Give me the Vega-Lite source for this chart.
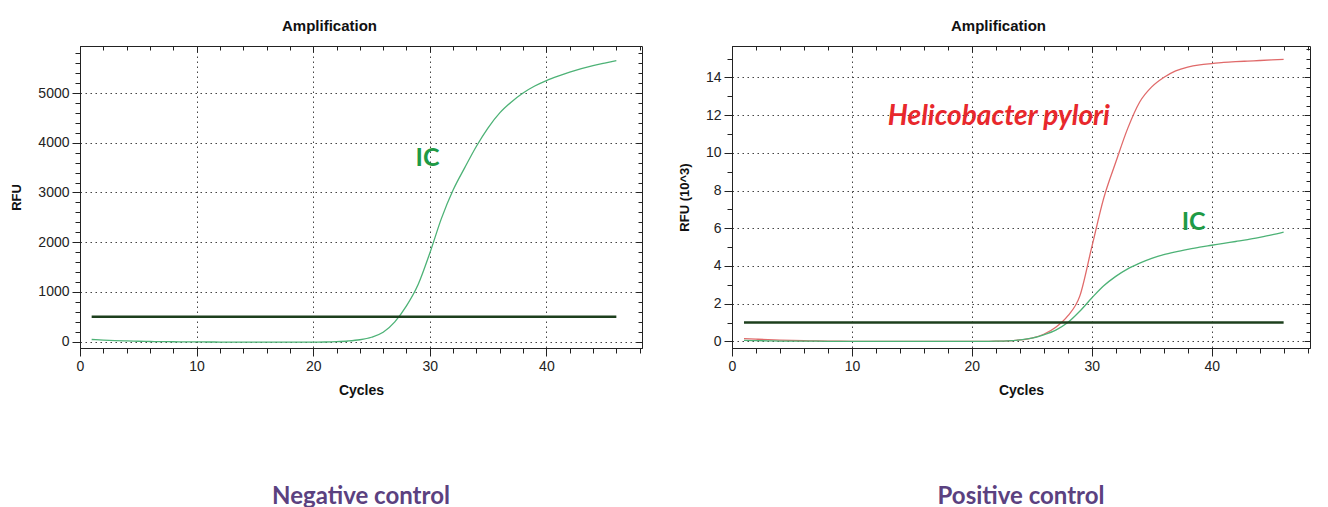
{
  "$schema": "https://vega.github.io/schema/vega-lite/v6.json",
  "background": "white",
  "padding": {"left": 10, "top": 18, "right": 5, "bottom": 5},
  "spacing": 34,
  "config": {
    "view": {"stroke": "#222", "strokeWidth": 1},
    "font": "Liberation Sans",
    "axis": {
      "labelFont": "Liberation Sans", "labelFontSize": 14, "labelColor": "#222",
      "titleFont": "Liberation Sans", "titleFontSize": 14, "titleFontWeight": "bold", "titleColor": "#111",
      "domainColor": "#222", "tickColor": "#222", "gridColor": "#444", "gridDash": [1.5, 3.5],
      "labelOverlap": false, "labelFlush": false, "labelPadding": 3
    }
  },
  "datasets": {
    "neg": [
      {"series": "IC", "cycle": 1, "rfu": 45}, {"series": "IC", "cycle": 2, "rfu": 33}, {"series": "IC", "cycle": 3, "rfu": 24},
      {"series": "IC", "cycle": 4, "rfu": 16}, {"series": "IC", "cycle": 5, "rfu": 10}, {"series": "IC", "cycle": 6, "rfu": 5},
      {"series": "IC", "cycle": 7, "rfu": 2}, {"series": "IC", "cycle": 8, "rfu": 0}, {"series": "IC", "cycle": 9, "rfu": -2},
      {"series": "IC", "cycle": 10, "rfu": -4}, {"series": "IC", "cycle": 11, "rfu": -5}, {"series": "IC", "cycle": 12, "rfu": -6},
      {"series": "IC", "cycle": 13, "rfu": -7}, {"series": "IC", "cycle": 14, "rfu": -8}, {"series": "IC", "cycle": 15, "rfu": -8},
      {"series": "IC", "cycle": 16, "rfu": -9}, {"series": "IC", "cycle": 17, "rfu": -9}, {"series": "IC", "cycle": 18, "rfu": -9},
      {"series": "IC", "cycle": 19, "rfu": -9}, {"series": "IC", "cycle": 20, "rfu": -8}, {"series": "IC", "cycle": 21, "rfu": -5},
      {"series": "IC", "cycle": 22, "rfu": 2}, {"series": "IC", "cycle": 23, "rfu": 15}, {"series": "IC", "cycle": 24, "rfu": 40},
      {"series": "IC", "cycle": 25, "rfu": 90}, {"series": "IC", "cycle": 26, "rfu": 190}, {"series": "IC", "cycle": 27, "rfu": 400},
      {"series": "IC", "cycle": 28, "rfu": 720}, {"series": "IC", "cycle": 29, "rfu": 1150}, {"series": "IC", "cycle": 30, "rfu": 1780},
      {"series": "IC", "cycle": 31, "rfu": 2480}, {"series": "IC", "cycle": 32, "rfu": 3050}, {"series": "IC", "cycle": 33, "rfu": 3500},
      {"series": "IC", "cycle": 34, "rfu": 3930}, {"series": "IC", "cycle": 35, "rfu": 4300}, {"series": "IC", "cycle": 36, "rfu": 4600},
      {"series": "IC", "cycle": 37, "rfu": 4820}, {"series": "IC", "cycle": 38, "rfu": 5000}, {"series": "IC", "cycle": 39, "rfu": 5140},
      {"series": "IC", "cycle": 40, "rfu": 5250}, {"series": "IC", "cycle": 41, "rfu": 5340}, {"series": "IC", "cycle": 42, "rfu": 5420},
      {"series": "IC", "cycle": 43, "rfu": 5490}, {"series": "IC", "cycle": 44, "rfu": 5550}, {"series": "IC", "cycle": 45, "rfu": 5600},
      {"series": "IC", "cycle": 46, "rfu": 5650}
    ],
    "pos": [
      {"series": "Helicobacter pylori", "cycle": 1, "rfu": 0.15}, {"series": "Helicobacter pylori", "cycle": 2, "rfu": 0.12},
      {"series": "Helicobacter pylori", "cycle": 3, "rfu": 0.09}, {"series": "Helicobacter pylori", "cycle": 4, "rfu": 0.07},
      {"series": "Helicobacter pylori", "cycle": 5, "rfu": 0.05}, {"series": "Helicobacter pylori", "cycle": 6, "rfu": 0.035},
      {"series": "Helicobacter pylori", "cycle": 7, "rfu": 0.025}, {"series": "Helicobacter pylori", "cycle": 8, "rfu": 0.015},
      {"series": "Helicobacter pylori", "cycle": 9, "rfu": 0.01}, {"series": "Helicobacter pylori", "cycle": 10, "rfu": 0.005},
      {"series": "Helicobacter pylori", "cycle": 11, "rfu": 0}, {"series": "Helicobacter pylori", "cycle": 12, "rfu": 0},
      {"series": "Helicobacter pylori", "cycle": 13, "rfu": 0}, {"series": "Helicobacter pylori", "cycle": 14, "rfu": 0},
      {"series": "Helicobacter pylori", "cycle": 15, "rfu": 0}, {"series": "Helicobacter pylori", "cycle": 16, "rfu": 0},
      {"series": "Helicobacter pylori", "cycle": 17, "rfu": 0}, {"series": "Helicobacter pylori", "cycle": 18, "rfu": 0},
      {"series": "Helicobacter pylori", "cycle": 19, "rfu": 0}, {"series": "Helicobacter pylori", "cycle": 20, "rfu": 0},
      {"series": "Helicobacter pylori", "cycle": 21, "rfu": 0}, {"series": "Helicobacter pylori", "cycle": 22, "rfu": 0.01},
      {"series": "Helicobacter pylori", "cycle": 23, "rfu": 0.03}, {"series": "Helicobacter pylori", "cycle": 24, "rfu": 0.08},
      {"series": "Helicobacter pylori", "cycle": 25, "rfu": 0.18}, {"series": "Helicobacter pylori", "cycle": 26, "rfu": 0.38},
      {"series": "Helicobacter pylori", "cycle": 27, "rfu": 0.75}, {"series": "Helicobacter pylori", "cycle": 28, "rfu": 1.35},
      {"series": "Helicobacter pylori", "cycle": 29, "rfu": 2.4}, {"series": "Helicobacter pylori", "cycle": 30, "rfu": 5.0},
      {"series": "Helicobacter pylori", "cycle": 31, "rfu": 7.6}, {"series": "Helicobacter pylori", "cycle": 32, "rfu": 9.5},
      {"series": "Helicobacter pylori", "cycle": 33, "rfu": 11.3}, {"series": "Helicobacter pylori", "cycle": 34, "rfu": 12.7},
      {"series": "Helicobacter pylori", "cycle": 35, "rfu": 13.5}, {"series": "Helicobacter pylori", "cycle": 36, "rfu": 14.0},
      {"series": "Helicobacter pylori", "cycle": 37, "rfu": 14.35}, {"series": "Helicobacter pylori", "cycle": 38, "rfu": 14.55},
      {"series": "Helicobacter pylori", "cycle": 39, "rfu": 14.67}, {"series": "Helicobacter pylori", "cycle": 40, "rfu": 14.74},
      {"series": "Helicobacter pylori", "cycle": 41, "rfu": 14.8}, {"series": "Helicobacter pylori", "cycle": 42, "rfu": 14.84},
      {"series": "Helicobacter pylori", "cycle": 43, "rfu": 14.87}, {"series": "Helicobacter pylori", "cycle": 44, "rfu": 14.9},
      {"series": "Helicobacter pylori", "cycle": 45, "rfu": 14.93}, {"series": "Helicobacter pylori", "cycle": 46, "rfu": 14.96},
      {"series": "IC", "cycle": 1, "rfu": 0.05}, {"series": "IC", "cycle": 2, "rfu": 0.04}, {"series": "IC", "cycle": 3, "rfu": 0.03},
      {"series": "IC", "cycle": 4, "rfu": 0.02}, {"series": "IC", "cycle": 5, "rfu": 0.015}, {"series": "IC", "cycle": 6, "rfu": 0.01},
      {"series": "IC", "cycle": 7, "rfu": 0.01}, {"series": "IC", "cycle": 8, "rfu": 0.005}, {"series": "IC", "cycle": 9, "rfu": 0.005},
      {"series": "IC", "cycle": 10, "rfu": 0}, {"series": "IC", "cycle": 11, "rfu": 0}, {"series": "IC", "cycle": 12, "rfu": 0},
      {"series": "IC", "cycle": 13, "rfu": 0}, {"series": "IC", "cycle": 14, "rfu": 0}, {"series": "IC", "cycle": 15, "rfu": 0},
      {"series": "IC", "cycle": 16, "rfu": 0}, {"series": "IC", "cycle": 17, "rfu": 0}, {"series": "IC", "cycle": 18, "rfu": 0},
      {"series": "IC", "cycle": 19, "rfu": 0}, {"series": "IC", "cycle": 20, "rfu": 0}, {"series": "IC", "cycle": 21, "rfu": 0},
      {"series": "IC", "cycle": 22, "rfu": 0.01}, {"series": "IC", "cycle": 23, "rfu": 0.03}, {"series": "IC", "cycle": 24, "rfu": 0.08},
      {"series": "IC", "cycle": 25, "rfu": 0.17}, {"series": "IC", "cycle": 26, "rfu": 0.35}, {"series": "IC", "cycle": 27, "rfu": 0.6},
      {"series": "IC", "cycle": 28, "rfu": 1.0}, {"series": "IC", "cycle": 29, "rfu": 1.6}, {"series": "IC", "cycle": 30, "rfu": 2.3},
      {"series": "IC", "cycle": 31, "rfu": 2.95}, {"series": "IC", "cycle": 32, "rfu": 3.45}, {"series": "IC", "cycle": 33, "rfu": 3.85},
      {"series": "IC", "cycle": 34, "rfu": 4.15}, {"series": "IC", "cycle": 35, "rfu": 4.4}, {"series": "IC", "cycle": 36, "rfu": 4.6},
      {"series": "IC", "cycle": 37, "rfu": 4.75}, {"series": "IC", "cycle": 38, "rfu": 4.88}, {"series": "IC", "cycle": 39, "rfu": 5.0},
      {"series": "IC", "cycle": 40, "rfu": 5.1}, {"series": "IC", "cycle": 41, "rfu": 5.2}, {"series": "IC", "cycle": 42, "rfu": 5.3},
      {"series": "IC", "cycle": 43, "rfu": 5.4}, {"series": "IC", "cycle": 44, "rfu": 5.52}, {"series": "IC", "cycle": 45, "rfu": 5.65},
      {"series": "IC", "cycle": 46, "rfu": 5.8}
    ],
    "thrNeg": [{"start": 1, "end": 46, "value": 500}],
    "thrPos": [{"start": 1, "end": 46, "value": 1.0}],
    "labNeg": [{"text": "IC", "cycle": 29.8, "rfu": 3690}],
    "labPosH": [{"text": "Helicobacter pylori", "cycle": 22.25, "rfu": 11.93}],
    "labPosIC": [{"text": "IC", "cycle": 38.5, "rfu": 6.35}]
  },
  "hconcat": [
    {
      "width": 562,
      "height": 302,
      "title": {"text": "Negative control", "orient": "bottom", "anchor": "middle", "frame": "group", "offset": 88, "font": "Lato", "fontSize": 24, "fontWeight": "bold", "color": "#5b4180"},
      "resolve": {"axis": {"x": "independent", "y": "independent"}},
      "layer": [
        {
          "data": {"name": "neg"},
          "mark": {"type": "line", "strokeWidth": 1.3, "interpolate": "monotone"},
          "encoding": {
            "x": {"field": "cycle", "type": "quantitative", "scale": {"domain": [0, 48.2], "nice": false, "zero": false},
              "axis": {"orient": "bottom", "values": [0,2,4,6,8,10,12,14,16,18,20,22,24,26,28,30,32,34,36,38,40,42,44,46,48],
                "labelExpr": "datum.value % 10 === 0 ? datum.label : ''", "grid": true,
                "gridOpacity": {"condition": {"test": "datum.value % 10 === 0", "value": 1}, "value": 0},
                "tickSize": {"condition": {"test": "datum.value % 10 === 0", "value": 8}, "value": 5},
                "title": "Cycles", "titlePadding": 10}},
            "y": {"field": "rfu", "type": "quantitative", "scale": {"domain": [-126, 5945], "nice": false, "zero": false},
              "axis": {"orient": "left", "values": [0,200,400,600,800,1000,1200,1400,1600,1800,2000,2200,2400,2600,2800,3000,3200,3400,3600,3800,4000,4200,4400,4600,4800,5000,5200,5400,5600,5800],
                "format": "d", "labelExpr": "datum.value % 1000 === 0 ? datum.label : ''", "grid": true,
                "gridOpacity": {"condition": {"test": "datum.value % 1000 === 0", "value": 1}, "value": 0},
                "tickSize": {"condition": {"test": "datum.value % 1000 === 0", "value": 8}, "value": 5},
                "title": "RFU", "titleFontSize": 13, "titlePadding": 14}},
            "color": {"field": "series", "type": "nominal", "scale": {"domain": ["IC", "Helicobacter pylori"], "range": ["#4db276", "#e06a6a"]}, "legend": null}
          }
        },
        {
          "data": {"name": "thrNeg"},
          "mark": {"type": "rule", "color": "#1d3f1d", "strokeWidth": 2.5},
          "encoding": {
            "x": {"field": "start", "type": "quantitative", "scale": {"domain": [0, 48.2], "nice": false, "zero": false},
              "axis": {"orient": "top", "values": [0,2,4,6,8,10,12,14,16,18,20,22,24,26,28,30,32,34,36,38,40,42,44,46,48],
                "labels": false, "grid": false, "domain": false,
                "tickSize": {"condition": {"test": "datum.value % 10 === 0", "value": -6}, "value": -4},
                "title": "Amplification", "titleFontSize": 15, "titlePadding": 12, "titleX": 249, "titleAlign": "center"}},
            "x2": {"field": "end"},
            "y": {"field": "value", "type": "quantitative", "scale": {"domain": [-126, 5945], "nice": false, "zero": false},
              "axis": {"orient": "right", "values": [0,200,400,600,800,1000,1200,1400,1600,1800,2000,2200,2400,2600,2800,3000,3200,3400,3600,3800,4000,4200,4400,4600,4800,5000,5200,5400,5600,5800],
                "labels": false, "grid": false, "domain": false, "title": null,
                "tickSize": {"condition": {"test": "datum.value % 1000 === 0", "value": -6}, "value": -4}}}
          }
        },
        {
          "data": {"name": "labNeg"},
          "mark": {"type": "text", "font": "Lato", "fontSize": 25, "fontWeight": "bold", "color": "#1e9a46"},
          "encoding": {
            "x": {"field": "cycle", "type": "quantitative", "axis": null},
            "y": {"field": "rfu", "type": "quantitative", "axis": null},
            "text": {"field": "text"}
          }
        }
      ]
    },
    {
      "width": 578,
      "height": 302,
      "title": {"text": "Positive control", "orient": "bottom", "anchor": "middle", "frame": "group", "offset": 88, "font": "Lato", "fontSize": 24, "fontWeight": "bold", "color": "#5b4180"},
      "resolve": {"axis": {"x": "independent", "y": "independent"}},
      "layer": [
        {
          "data": {"name": "pos"},
          "mark": {"type": "line", "strokeWidth": 1.3, "interpolate": "monotone"},
          "encoding": {
            "x": {"field": "cycle", "type": "quantitative", "scale": {"domain": [0, 48.2], "nice": false, "zero": false},
              "axis": {"orient": "bottom", "values": [0,2,4,6,8,10,12,14,16,18,20,22,24,26,28,30,32,34,36,38,40,42,44,46,48],
                "labelExpr": "datum.value % 10 === 0 ? datum.label : ''", "grid": true,
                "gridOpacity": {"condition": {"test": "datum.value % 10 === 0", "value": 1}, "value": 0},
                "tickSize": {"condition": {"test": "datum.value % 10 === 0", "value": 8}, "value": 5},
                "title": "Cycles", "titlePadding": 10}},
            "y": {"field": "rfu", "type": "quantitative", "scale": {"domain": [-0.35, 15.67], "nice": false, "zero": false},
              "axis": {"orient": "left", "values": [0,0.5,1,1.5,2,2.5,3,3.5,4,4.5,5,5.5,6,6.5,7,7.5,8,8.5,9,9.5,10,10.5,11,11.5,12,12.5,13,13.5,14,14.5,15,15.5],
                "format": "d", "labelExpr": "datum.value % 2 === 0 ? datum.label : ''", "grid": true,
                "gridOpacity": {"condition": {"test": "datum.value % 2 === 0", "value": 1}, "value": 0},
                "tickSize": {"condition": {"test": "datum.value % 2 === 0", "value": 8}, "value": 5},
                "title": "RFU (10^3)", "titleFontSize": 13, "titlePadding": 14}},
            "color": {"field": "series", "type": "nominal", "scale": {"domain": ["IC", "Helicobacter pylori"], "range": ["#4db276", "#e06a6a"]}, "legend": null}
          }
        },
        {
          "data": {"name": "thrPos"},
          "mark": {"type": "rule", "color": "#1d3f1d", "strokeWidth": 2.5},
          "encoding": {
            "x": {"field": "start", "type": "quantitative", "scale": {"domain": [0, 48.2], "nice": false, "zero": false},
              "axis": {"orient": "top", "values": [0,2,4,6,8,10,12,14,16,18,20,22,24,26,28,30,32,34,36,38,40,42,44,46,48],
                "labels": false, "grid": false, "domain": false,
                "tickSize": {"condition": {"test": "datum.value % 10 === 0", "value": -6}, "value": -4},
                "title": "Amplification", "titleFontSize": 15, "titlePadding": 12, "titleX": 266, "titleAlign": "center"}},
            "x2": {"field": "end"},
            "y": {"field": "value", "type": "quantitative", "scale": {"domain": [-0.35, 15.67], "nice": false, "zero": false},
              "axis": {"orient": "right", "values": [0,0.5,1,1.5,2,2.5,3,3.5,4,4.5,5,5.5,6,6.5,7,7.5,8,8.5,9,9.5,10,10.5,11,11.5,12,12.5,13,13.5,14,14.5,15,15.5],
                "labels": false, "grid": false, "domain": false, "title": null,
                "tickSize": {"condition": {"test": "datum.value % 2 === 0", "value": -6}, "value": -4}}}
          }
        },
        {
          "data": {"name": "labPosH"},
          "mark": {"type": "text", "font": "Lato", "fontSize": 28, "fontWeight": "bold", "fontStyle": "italic", "color": "#e8282c"},
          "encoding": {
            "x": {"field": "cycle", "type": "quantitative", "axis": null},
            "y": {"field": "rfu", "type": "quantitative", "axis": null},
            "text": {"field": "text"}
          }
        },
        {
          "data": {"name": "labPosIC"},
          "mark": {"type": "text", "font": "Lato", "fontSize": 25, "fontWeight": "bold", "color": "#1e9a46"},
          "encoding": {
            "x": {"field": "cycle", "type": "quantitative", "axis": null},
            "y": {"field": "rfu", "type": "quantitative", "axis": null},
            "text": {"field": "text"}
          }
        }
      ]
    }
  ]
}
